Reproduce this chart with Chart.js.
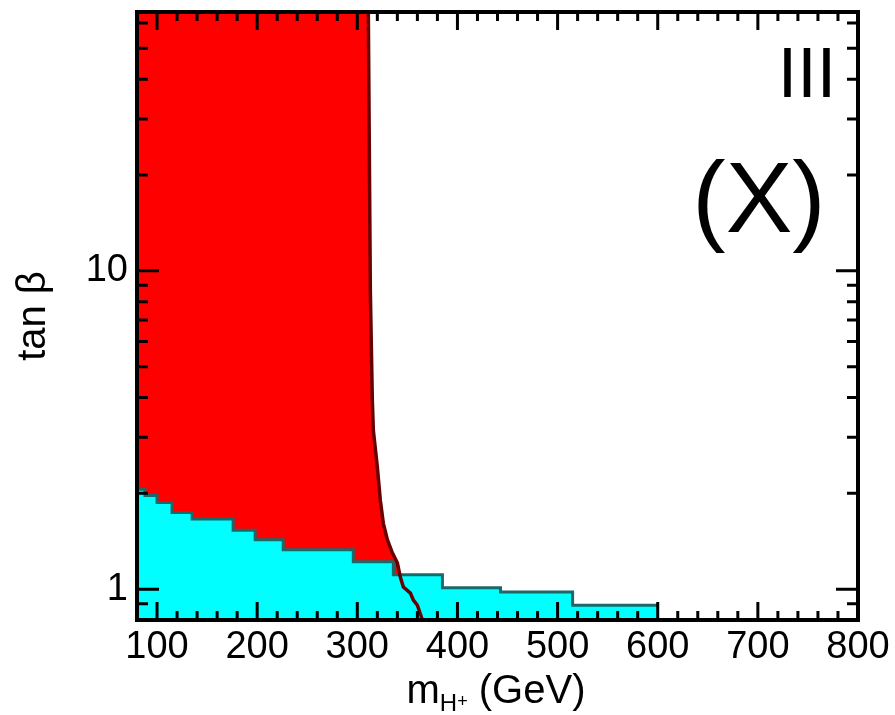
<!DOCTYPE html>
<html>
<head>
<meta charset="utf-8">
<script src="https://cdn.jsdelivr.net/npm/chart.js@4.4.1/dist/chart.umd.min.js"></script>
<style>
  body { margin: 0; background: #fff; }
</style>
</head>
<body>
<canvas id="tanbChart" width="895" height="715"></canvas>
<script>
// tan(beta) vs m_H+ , type X exclusion regions

const xMin = 80, xMax = 800;
const yMin = 0.8, yMax = 65;

const xTickValues = [100, 200, 300, 400, 500, 600, 700, 800];
const yTickValues = [1, 10];
const yMinorValues = [0.9, 2, 3, 4, 5, 6, 7, 8, 9, 20, 30, 40, 50, 60];

// red region boundary (excluded to the left)
const redX = [311, 312, 313, 315, 316, 320, 323, 326, 330, 335, 340, 343, 346, 353, 356, 360, 365];
const redY = [65, 24, 8.7, 3.93, 3.16, 2.42, 1.90, 1.61, 1.43, 1.30, 1.21, 1.09, 1.015, 0.972, 0.924, 0.89, 0.8];

// cyan region upper edge (stepped)
const cyanX = [80, 88, 100, 115, 135, 176, 198, 226, 296, 336, 385, 443, 515, 600];
const cyanY = [2.06, 1.97, 1.87, 1.74, 1.66, 1.53, 1.43, 1.33, 1.22, 1.11, 1.01, 0.98, 0.89, 0.89];

Chart.defaults.font.family = '"Liberation Sans", Arial, sans-serif';
Chart.defaults.color = "#000";

const toPoints = (xs, ys) => xs.map((v, i) => ({ x: v, y: ys[i] }));

const redLine = toPoints(redX, redY);
const redArea = [{ x: xMin, y: yMax }].concat(redLine);
const cyanEdge = toPoints(cyanX, cyanY);

const framePlugin = {
	id: "frameAndLabels",
	afterDatasetsDraw(chart) {
		const { ctx, chartArea: a, scales } = chart;
		const x = scales.x, y = scales.y;
		ctx.save();
		ctx.strokeStyle = "#000";
		ctx.lineWidth = 3;
		ctx.beginPath();
		// x ticks, top and bottom, pointing in
		for (let v = 100; v <= 780; v += 20) {
			const px = x.getPixelForValue(v);
			const len = v % 100 === 0 ? 18 : 9;
			ctx.moveTo(px, a.bottom);
			ctx.lineTo(px, a.bottom - len);
			ctx.moveTo(px, a.top);
			ctx.lineTo(px, a.top + len);
		}
		// y ticks, left and right
		yTickValues.concat(yMinorValues).forEach((v) => {
			const py = y.getPixelForValue(v);
			const len = yTickValues.includes(v) ? 22 : 11;
			ctx.moveTo(a.left, py);
			ctx.lineTo(a.left + len, py);
			ctx.moveTo(a.right, py);
			ctx.lineTo(a.right - len, py);
		});
		ctx.stroke();

		ctx.lineWidth = 4;
		ctx.strokeRect(a.left, a.top, a.right - a.left, a.bottom - a.top);

		ctx.fillStyle = "#000";
		ctx.textAlign = "center";
		ctx.textBaseline = "alphabetic";
		ctx.font = '70px "Liberation Sans"';
		ctx.fillText("III", a.right - 51, 97);
		ctx.font = '100px "Liberation Sans"';
		ctx.fillText("(X)", a.right - 99, 232);
		ctx.restore();
	},
	afterDraw(chart) {
		const { ctx } = chart;
		ctx.save();
		ctx.fillStyle = "#000";
		ctx.textBaseline = "alphabetic";

		// x title: m_{H+} (GeV)
		const parts = [
			{ t: "m", f: '40px "Liberation Sans"', dy: 0 },
			{ t: "H", f: '24px "Liberation Sans"', dy: 8 },
			{ t: "+", f: '18px "Liberation Sans"', dy: 4 },
			{ t: " (GeV)", f: '40px "Liberation Sans"', dy: 0 },
		];
		let total = 0;
		parts.forEach((p) => {
			ctx.font = p.f;
			p.w = ctx.measureText(p.t).width;
			total += p.w;
		});
		let cx = 496 - total / 2;
		ctx.textAlign = "left";
		parts.forEach((p) => {
			ctx.font = p.f;
			ctx.fillText(p.t, cx, 703 + p.dy);
			cx += p.w;
		});

		// y title
		ctx.translate(45, 316);
		ctx.rotate(-Math.PI / 2);
		ctx.textAlign = "center";
		ctx.font = '40px "Liberation Sans"';
		ctx.fillText("tan \u03b2", 0, 0);
		ctx.restore();
	},
};

const tanbConfig = {
	type: "line",
	data: {
		datasets: [
			{
				label: "red boundary",
				data: redLine,
				borderColor: "rgb(105, 0, 0)",
				borderWidth: 3.5,
				pointRadius: 0,
				fill: false,
				tension: 0,
			},
			{
				label: "cyan",
				data: cyanEdge,
				stepped: true,
				borderColor: "rgb(25, 105, 105)",
				borderWidth: 3,
				backgroundColor: "rgb(0, 255, 255)",
				pointRadius: 0,
				fill: "start",
			},
			{
				label: "red",
				data: redArea,
				borderWidth: 0,
				borderColor: "rgba(0,0,0,0)",
				backgroundColor: "rgb(255, 0, 0)",
				pointRadius: 0,
				fill: "start",
				tension: 0,
			},
		],
	},
	options: {
		responsive: false,
		animation: false,
		layout: { padding: { left: 0, right: 37, top: 12, bottom: 0 } },
		plugins: { legend: { display: false }, tooltip: { enabled: false } },
		scales: {
			x: {
				type: "linear",
				min: xMin,
				max: xMax,
				grid: { display: false, drawTicks: false },
				border: { display: false },
				afterBuildTicks: (s) => {
					s.ticks = xTickValues.map((v) => ({ value: v }));
				},
				afterFit: (s) => {
					s.height = 95;
					s.paddingLeft = 0;
					s.paddingRight = 0;
				},
				ticks: {
					autoSkip: false,
					maxRotation: 0,
					padding: 5,
					font: { size: 38 },
					color: "#000",
				},
			},
			y: {
				type: "logarithmic",
				min: yMin,
				max: yMax,
				grid: { display: false, drawTicks: false },
				border: { display: false },
				afterBuildTicks: (s) => {
					s.ticks = yTickValues.map((v) => ({ value: v }));
				},
				afterFit: (s) => {
					s.width = 137;
					s.paddingTop = 0;
					s.paddingBottom = 0;
				},
				ticks: {
					autoSkip: false,
					padding: 9,
					font: { size: 38 },
					color: "#000",
					callback: (v) => String(v),
				},
			},
		},
	},
	plugins: [framePlugin],
};

const tanbPlot = new Chart(document.getElementById("tanbChart"), tanbConfig);
</script>
</body>
</html>
